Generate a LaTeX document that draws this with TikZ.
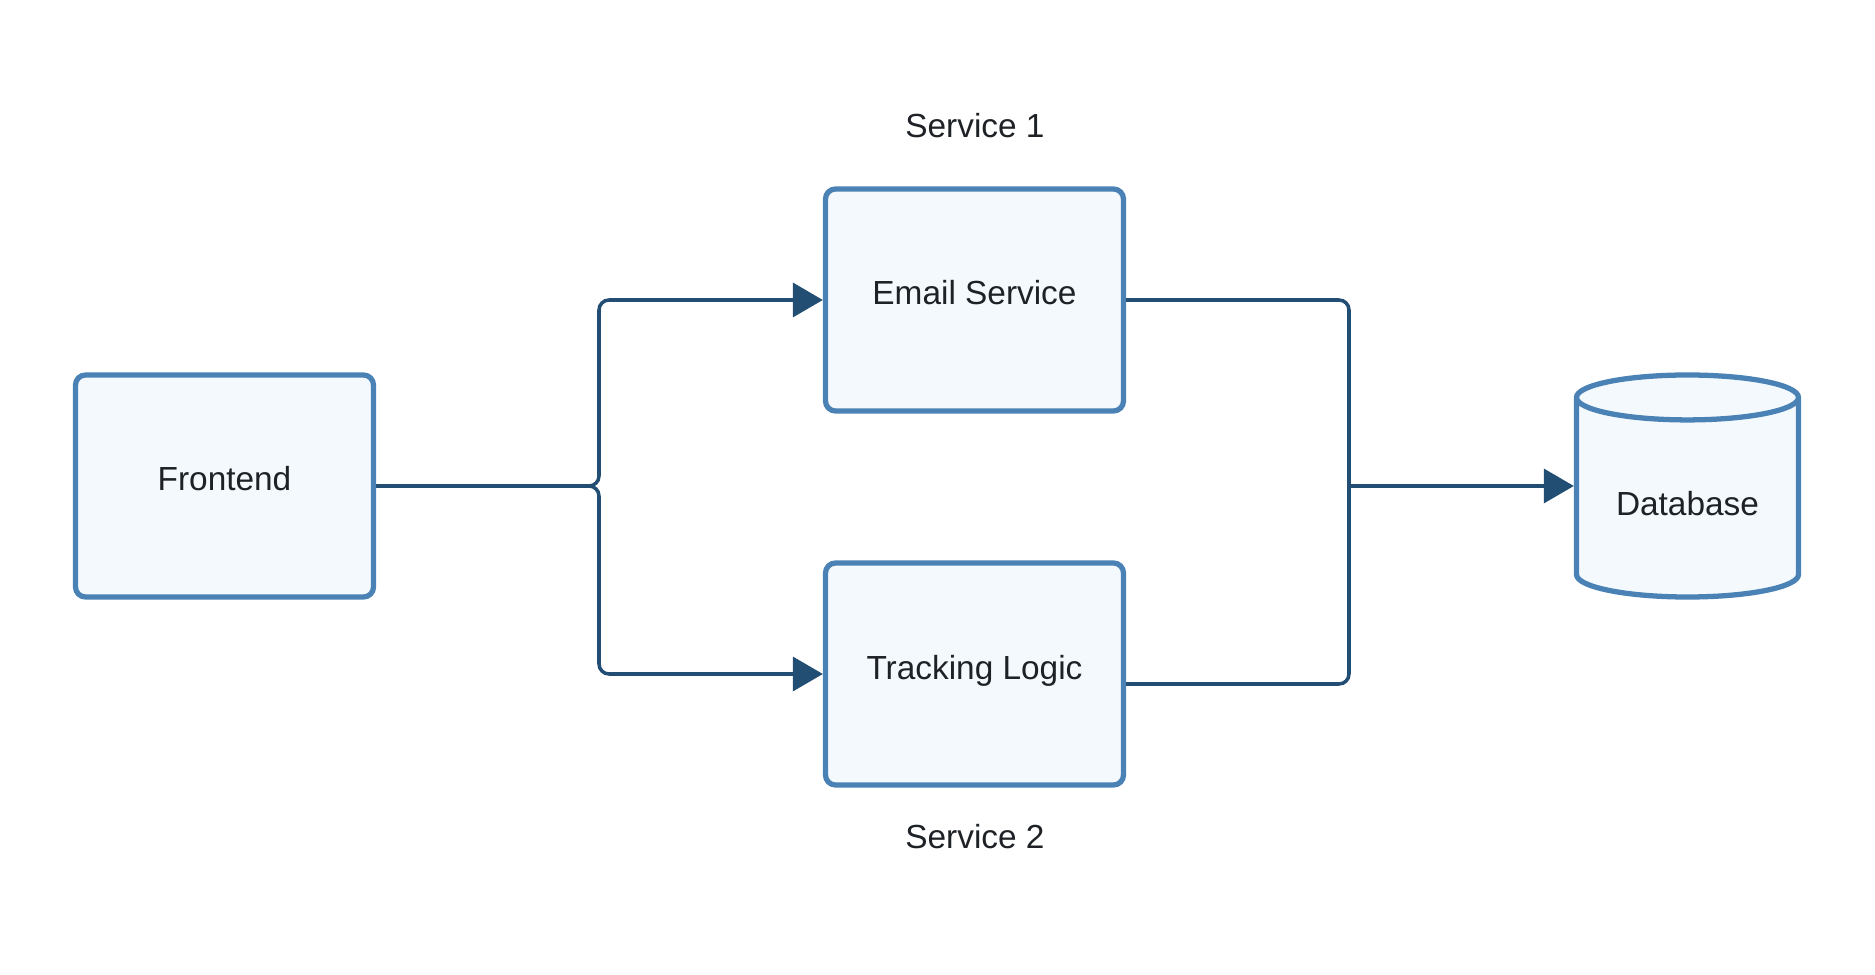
\documentclass[tikz,border=0pt]{standalone}
\usepackage{fontspec}
\setmainfont{Liberation Sans}
\usetikzlibrary{arrows.meta,shapes.geometric}
\definecolor{boxline}{HTML}{4A82B6}
\definecolor{boxfill}{HTML}{F4F9FE}
\definecolor{wire}{HTML}{234E74}
\definecolor{txt}{HTML}{1E2226}
\tikzset{
  svc/.style={draw=boxline, fill=boxfill, line width=1.5pt, rounded corners=0.1cm,
    minimum width=2.98cm, minimum height=2.22cm, text=txt, text height=2.5mm, text depth=1.5mm,
    font=\fontsize{9.5}{11}\selectfont},
  store/.style={cylinder, shape border rotate=90, aspect=0.27, draw=boxline, fill=boxfill,
    line width=1.5pt, minimum width=2.22cm, minimum height=2.22cm, text=txt,
    anchor=shape center, font=\fontsize{9.5}{11}\selectfont},
  link/.style={draw=wire, line width=1pt, rounded corners=0.1cm},
  tip/.style={-{Triangle[length=3mm, width=3.4mm]}}
}
\begin{document}
\begin{tikzpicture}
  \useasboundingbox (0,0) rectangle (18.75,9.75);
  \node (frontend) [svc] at (2.245,4.89) {Frontend};
  \node (email) [svc] at (9.745,6.75) {Email Service};
  \node (tracking) [svc] at (9.745,3.01) {Tracking Logic};
  \node (db) [store] at (16.875,4.89) {Database};
  \node (s1) [text=txt, font=\fontsize{9.5}{11}\selectfont] at (9.75,8.49) {Service 1};
  \node (s2) [text=txt, font=\fontsize{9.5}{11}\selectfont] at (9.75,1.38) {Service 2};

  \coordinate (split) at (5.99,4.89);
  \coordinate (join) at (13.49,4.89);

  \draw[link, tip] (frontend.east) -- (split) |- (email.west);
  \draw[link, tip] (frontend.east) -- (split) |- (tracking.west);
  \draw[link] (email.east) -- (email.east -| join) -- (join);
  \draw[link] ([yshift=-0.1cm]tracking.east) -- ([yshift=-0.1cm]tracking.east -| join) -- (join);
  \draw[link, tip] (join) -- (join -| db.west);
\end{tikzpicture}
\end{document}
